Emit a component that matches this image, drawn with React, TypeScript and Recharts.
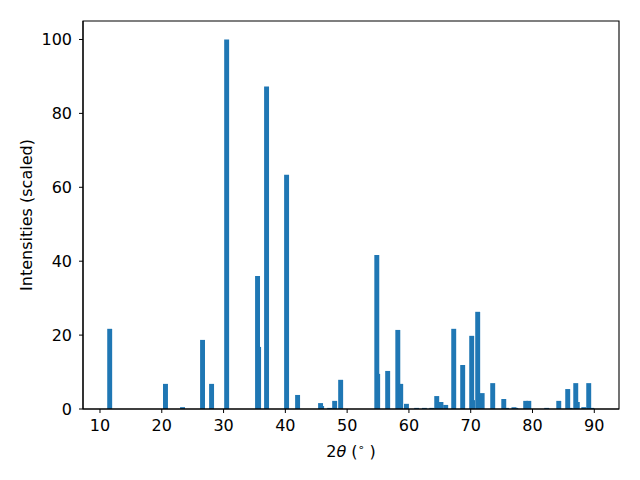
import React from 'react';
import { ComposedChart, XAxis, YAxis, ReferenceArea, Scatter } from 'recharts';

const twoTheta = [
  11.57, 20.6, 23.36, 26.6, 28.06, 30.5, 35.5, 35.67, 36.96, 40.2,
  41.98, 45.7, 45.87, 47.17, 47.98, 48.95, 54.8, 54.94, 56.56, 58.2,
  58.67, 59.6, 61.25, 62.5, 63.7, 64.5, 65.18, 65.95, 67.25, 68.7,
  70.16, 70.3, 71.13, 71.85, 73.56, 75.35, 75.8, 77.0, 77.3, 78.9,
  79.4, 82.3, 84.25, 85.7, 86.1, 87.0, 87.25, 88.3, 89.1, 89.6,
];
const intensities = [
  21.7, 6.8, 0.5, 18.7, 6.8, 100, 36.0, 16.8, 87.3, 63.4,
  3.8, 1.6, 0.8, 0.3, 2.2, 7.9, 41.7, 9.5, 10.3, 21.4,
  6.8, 1.4, 0.3, 0.3, 0.3, 3.5, 1.9, 1.1, 21.7, 11.9,
  19.8, 2.4, 26.3, 4.3, 7.0, 2.7, 0.3, 0.5, 0.3, 2.2,
  2.2, 0.3, 2.2, 5.4, 0.3, 7.0, 1.9, 0.5, 7.0, 0.3,
];
const xTicks = [10, 20, 30, 40, 50, 60, 70, 80, 90];
const yTicks = [0, 20, 40, 60, 80, 100];

const BAR_WIDTH = 0.8;
const X_DOMAIN: [number, number] = [7.25, 94.0];
const Y_DOMAIN: [number, number] = [0, 105];

const data = twoTheta.map((x, i) => ({ x, y: intensities[i] }));

const FONT = "'DejaVu Sans', sans-serif";

const XLabel = (props: any) => {
  const vb = props.viewBox || { x: 0, y: 0, width: 0, height: 0 };
  const cx = vb.x + vb.width / 2;
  return (
    <text x={cx} y={vb.y + 48} textAnchor="middle" fontFamily={FONT} fontSize={16} fill="#000">
      <tspan>2</tspan>
      <tspan fontStyle="italic">θ</tspan>
      <tspan> (</tspan>
      <tspan fontSize={11} dy={-6}>∘</tspan>
      <tspan dy={6}> )</tspan>
    </text>
  );
};

const YLabel = (props: any) => {
  const vb = props.viewBox || { x: 0, y: 0, width: 0, height: 0 };
  const cy = vb.y + vb.height / 2;
  const x = 32;
  return (
    <text
      x={x}
      y={cy}
      textAnchor="middle"
      fontFamily={FONT}
      fontSize={16}
      fill="#000"
      transform={`rotate(-90, ${x}, ${cy})`}
    >
      Intensities (scaled)
    </text>
  );
};

export default function App() {
  return (
    <div style={{ position: 'absolute', left: 0, top: 0, width: 640, height: 480, background: '#fff' }}>
      <ComposedChart width={640} height={480} data={data} margin={{ top: 21, right: 21, left: 0, bottom: 0 }}>
        <XAxis
          type="number"
          dataKey="x"
          domain={X_DOMAIN}
          ticks={xTicks}
          allowDataOverflow
          height={71}
          tickSize={4}
          tickMargin={7}
          stroke="#000"
          tickLine={{ stroke: '#000' }}
          axisLine={{ stroke: '#000', strokeWidth: 1.1 }}
          tick={{ fill: '#000', fontSize: 16, fontFamily: FONT }}
          label={<XLabel />}
        />
        <YAxis
          type="number"
          domain={Y_DOMAIN}
          ticks={yTicks}
          allowDataOverflow
          width={83}
          tickSize={4}
          tickMargin={7}
          stroke="#000"
          tickLine={{ stroke: '#000' }}
          axisLine={{ stroke: '#000', strokeWidth: 1.1 }}
          tick={{ fill: '#000', fontSize: 16, fontFamily: FONT }}
          label={<YLabel />}
        />
        <Scatter dataKey="y" isAnimationActive={false} shape={() => <g />} />
        {data.map((d, i) => (
          <ReferenceArea
            key={i}
            x1={d.x - BAR_WIDTH / 2}
            x2={d.x + BAR_WIDTH / 2}
            y1={0}
            y2={d.y}
            fill="#1f77b4"
            fillOpacity={1}
            stroke="none"
            ifOverflow="visible"
          />
        ))}
        <ReferenceArea
          x1={X_DOMAIN[0]}
          x2={X_DOMAIN[1]}
          y1={Y_DOMAIN[0]}
          y2={Y_DOMAIN[1]}
          fill="none"
          fillOpacity={0}
          stroke="#000"
          strokeWidth={1.1}
          ifOverflow="visible"
        />
      </ComposedChart>
    </div>
  );
}
